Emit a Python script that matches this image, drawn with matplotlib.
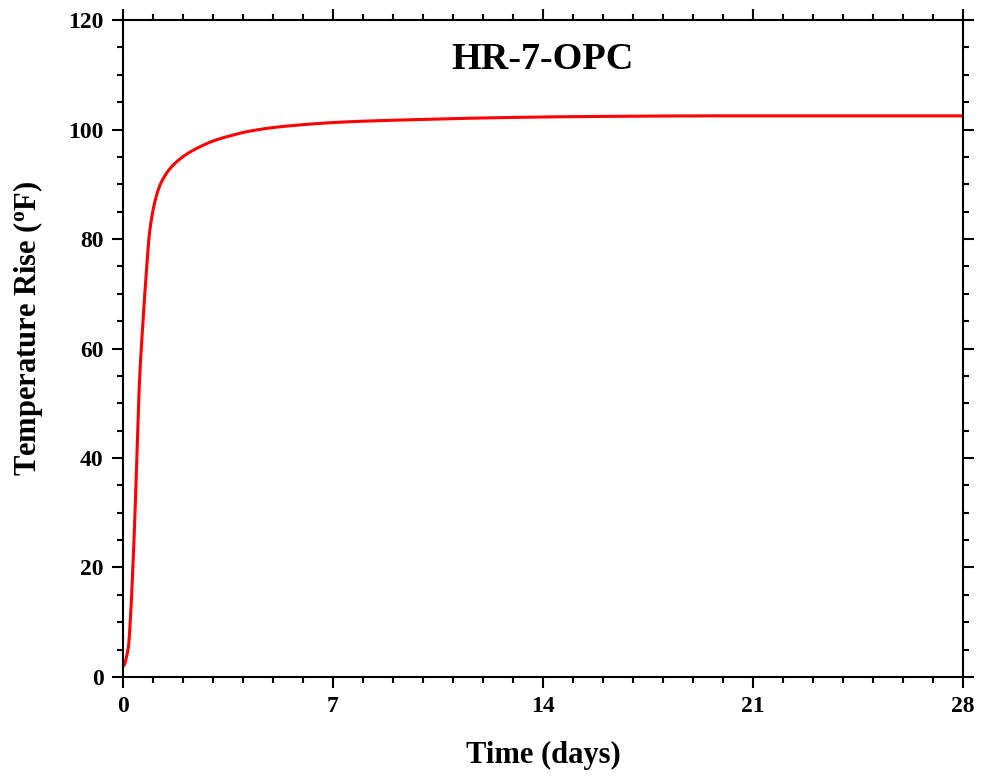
import matplotlib
matplotlib.use("Agg")
import matplotlib.pyplot as plt
from matplotlib.ticker import MultipleLocator
import numpy as np

plt.rcParams['font.family'] = ['Liberation Serif', 'DejaVu Serif']
plt.rcParams['font.weight'] = 'bold'
plt.rcParams['mathtext.fontset'] = 'custom'
plt.rcParams['mathtext.rm'] = 'Liberation Serif:bold'
plt.rcParams['mathtext.it'] = 'Liberation Serif:bold'
plt.rcParams['mathtext.bf'] = 'Liberation Serif:bold'

time_days = [0.0, 0.04, 0.12, 0.18, 0.25, 0.31, 0.4, 0.47, 0.54, 0.64, 0.79, 0.88,
             1.07, 1.26, 1.62, 2.12, 2.62, 3.0, 3.67, 4.12, 5.23, 7.46, 9.7,
             11.9, 15.0, 20.0, 28.0]
temp_rise = [2.0, 2.2, 3.8, 5.5, 11.0, 17.7, 30.0, 42.0, 53.0, 62.8, 74.9, 81.0,
             87.0, 90.2, 93.2, 95.5, 97.0, 97.9, 99.0, 99.6, 100.5, 101.4, 101.8,
             102.1, 102.35, 102.5, 102.5]

x_ticks = [0, 7, 14, 21, 28]
y_ticks = [0, 20, 40, 60, 80, 100, 120]


def pchip(x, y, xn):
    x = np.asarray(x, float)
    y = np.asarray(y, float)
    h = np.diff(x)
    d = np.diff(y) / h
    n = len(x)
    m = np.zeros(n)
    for k in range(1, n - 1):
        if d[k - 1] * d[k] <= 0:
            m[k] = 0.0
        else:
            w1 = 2 * h[k] + h[k - 1]
            w2 = h[k] + 2 * h[k - 1]
            m[k] = (w1 + w2) / (w1 / d[k - 1] + w2 / d[k])
    m[0] = d[0]
    m[-1] = d[-1]
    idx = np.clip(np.searchsorted(x, xn) - 1, 0, n - 2)
    t = (xn - x[idx]) / h[idx]
    h00 = 2 * t**3 - 3 * t**2 + 1
    h10 = t**3 - 2 * t**2 + t
    h01 = -2 * t**3 + 3 * t**2
    h11 = t**3 - t**2
    return h00 * y[idx] + h10 * h[idx] * m[idx] + h01 * y[idx + 1] + h11 * h[idx] * m[idx + 1]


xs = np.linspace(0, 28, 4000)
ys = pchip(time_days, temp_rise, xs)

fig = plt.figure(figsize=(9.81, 7.76), dpi=100)
ax = fig.add_axes([0.1254, 0.1276, 0.8563, 0.8466])
ax.plot(xs, ys, color='#ff0000', lw=2.2)

ax.set_xlim(0, 28)
ax.set_ylim(0, 120)
ax.set_xticks(x_ticks)
ax.set_yticks(y_ticks)
ax.xaxis.set_minor_locator(MultipleLocator(1))
ax.yaxis.set_minor_locator(MultipleLocator(5))
ax.tick_params(which='both', direction='out', top=True, right=True, width=1.5, labelsize=17)
ax.tick_params(which='major', length=8)
ax.tick_params(which='minor', length=4.3)
ax.tick_params(axis='x', which='major', pad=6)
ax.tick_params(axis='y', which='major', pad=6)
for s in ax.spines.values():
    s.set_linewidth(1.5)
for lab in ax.get_xticklabels() + ax.get_yticklabels():
    lab.set_fontweight('bold')

ax.set_xlabel('Time (days)', fontsize=22, fontweight='bold')
ax.xaxis.set_label_coords(0.5, -0.098)
ax.set_ylabel(r'Temperature Rise ($^{\mathrm{o}}$F)', fontsize=22, fontweight='bold')
ax.yaxis.set_label_coords(-0.093, 0.53)
ax.text(0.5, 0.94, 'HR-7-OPC', transform=ax.transAxes, ha='center', va='center',
        fontsize=27.5, fontweight='bold')

fig.savefig('out.png', dpi=100)
